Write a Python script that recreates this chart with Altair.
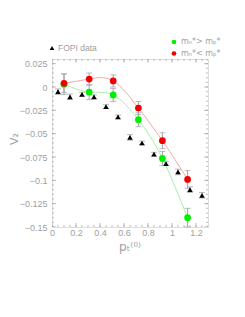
import altair as alt
import pandas as pd

# FOPI data (black triangles)
fopi_x = [0.05, 0.15, 0.25, 0.35, 0.45, 0.55, 0.65, 0.75, 0.85, 0.95, 1.05, 1.15, 1.25]
fopi_v2 = [-0.005, -0.0105, -0.0078, -0.0105, -0.021, -0.032, -0.054, -0.060, -0.072, -0.082, -0.091, -0.110, -0.116]
fopi_err = [0.003, 0.003, 0.002, 0.002, 0.002, 0.002, 0.003, 0.002, 0.002, 0.002, 0.003, 0.003, 0.003]

# model results
model_x = [0.10, 0.31, 0.51, 0.72, 0.92, 1.13]
green_v2 = [0.003, -0.0055, -0.0085, -0.035, -0.0765, -0.140]
green_err = [0.011, 0.008, 0.007, 0.0075, 0.0075, 0.010]
red_v2 = [0.004, 0.0085, 0.0065, -0.0225, -0.0575, -0.099]
red_err = [0.010, 0.0065, 0.0065, 0.007, 0.0085, 0.0095]

x_ticks = [0, 0.2, 0.4, 0.6, 0.8, 1, 1.2]
y_ticks = [0.025, 0, -0.025, -0.05, -0.075, -0.1, -0.125, -0.15]
x_minor = [round(i * 0.05, 3) for i in range(27)]
y_minor = [round(-0.15 + i * 0.005, 4) for i in range(37)]

W, H = 156, 168
GREY = "#a0a0a0"
FONT = "Liberation Sans"

fopi = pd.DataFrame({"x": fopi_x, "v": fopi_v2,
                     "lo": [v - e for v, e in zip(fopi_v2, fopi_err)],
                     "hi": [v + e for v, e in zip(fopi_v2, fopi_err)]})
green = pd.DataFrame({"x": model_x, "v": green_v2,
                      "lo": [v - e for v, e in zip(green_v2, green_err)],
                      "hi": [v + e for v, e in zip(green_v2, green_err)]})
red = pd.DataFrame({"x": model_x, "v": red_v2,
                    "lo": [v - e for v, e in zip(red_v2, red_err)],
                    "hi": [v + e for v, e in zip(red_v2, red_err)]})

xs = alt.Scale(domain=[0, 1.3], nice=False, zero=False)
ys = alt.Scale(domain=[-0.15, 0.03], nice=False, zero=False)

LBL = "datum.value < 0 ? '\u2212' + toString(-datum.value) : toString(datum.value)"

xax = alt.Axis(values=x_ticks, labelExpr=LBL, ticks=False, domain=False, grid=False,
               labelFont=FONT, labelFontSize=9, labelColor=GREY, labelPadding=1,
               title=None, labelFlush=False, labelOverlap=False, labelBound=False)
yax = alt.Axis(values=y_ticks, labelExpr=LBL, ticks=False, domain=False, grid=False,
               labelFont=FONT, labelFontSize=9, labelColor=GREY, labelPadding=5,
               title=None, labelFlush=False, labelOverlap=False, labelBound=False)


def X(f="x"):
    return alt.X(f"{f}:Q", scale=xs, axis=xax)


def Y(f="v"):
    return alt.Y(f"{f}:Q", scale=ys, axis=yax)


def errbars(df):
    base = alt.Chart(df)
    rule = base.mark_rule(color=GREY, strokeWidth=1).encode(x=X(), y=Y("lo"), y2="hi:Q")
    cap_lo = base.mark_tick(color=GREY, orient="horizontal", size=6, thickness=1).encode(
        x=X(), y=Y("lo"))
    cap_hi = base.mark_tick(color=GREY, orient="horizontal", size=6, thickness=1).encode(
        x=X(), y=Y("hi"))
    return rule + cap_lo + cap_hi


green_line = alt.Chart(green).mark_line(interpolate="natural", color="#a8f0a8", strokeWidth=1).encode(x=X(), y=Y())
red_line = alt.Chart(red).mark_line(interpolate="natural", color="#f4a8a8", strokeWidth=1).encode(x=X(), y=Y())

fopi_pts = alt.Chart(fopi).mark_point(shape="triangle-up", filled=True, color="black",
                                      size=30, opacity=1).encode(x=X(), y=Y())
green_pts = alt.Chart(green).mark_circle(color="#00ee00", size=45, opacity=1).encode(x=X(), y=Y())
red_pts = alt.Chart(red).mark_circle(color="#ee0000", size=45, opacity=1).encode(x=X(), y=Y())

# frame ticks (inward)
xmaj = pd.DataFrame({"x": x_ticks})
xmin = pd.DataFrame({"x": x_minor})
ymaj = pd.DataFrame({"v": y_ticks})
ymin = pd.DataFrame({"v": y_minor})


def xt(df, length, yy):
    return alt.Chart(df).mark_tick(color=GREY, thickness=1, size=2 * length, clip=True,
                                   orient="vertical").encode(x=X(), y=alt.value(yy))


def yt(df, length, xx):
    return alt.Chart(df).mark_tick(color=GREY, thickness=1, size=2 * length, clip=True,
                                   orient="horizontal").encode(y=Y(), x=alt.value(xx))


ticks = (xt(xmaj, 4, H) + xt(xmin, 2, H) + xt(xmaj, 4, 0) + xt(xmin, 2, 0)
         + yt(ymaj, 4, 0) + yt(ymin, 2, 0) + yt(ymaj, 4, W) + yt(ymin, 2, W))

# legend & titles
leg_tri = alt.Chart(pd.DataFrame({"a": [0]})).mark_point(
    shape="triangle-up", filled=True, color="black", size=22, opacity=1).encode(
    x=alt.value(0), y=alt.value(-11))
leg_fopi = alt.Chart(pd.DataFrame({"t": ["FOPI data"]})).mark_text(
    align="left", baseline="middle", font=FONT, fontSize=8.5, color=GREY).encode(
    text="t:N", x=alt.value(6), y=alt.value(-11))
leg_g = alt.Chart(pd.DataFrame({"a": [0]})).mark_circle(color="#00ee00", size=22, opacity=1).encode(
    x=alt.value(122), y=alt.value(-17))
leg_r = alt.Chart(pd.DataFrame({"a": [0]})).mark_circle(color="#ee0000", size=22, opacity=1).encode(
    x=alt.value(122), y=alt.value(-5.5))
leg_gt = alt.Chart(pd.DataFrame({"t": ["mₙ*> mₚ*"]})).mark_text(
    align="left", baseline="middle", font="DejaVu Sans", fontSize=8, color=GREY).encode(
    text="t:N", x=alt.value(129), y=alt.value(-17))
leg_rt = alt.Chart(pd.DataFrame({"t": ["mₙ*< mₚ*"]})).mark_text(
    align="left", baseline="middle", font="DejaVu Sans", fontSize=8, color=GREY).encode(
    text="t:N", x=alt.value(129), y=alt.value(-5.5))
ytitle = alt.Chart(pd.DataFrame({"t": ["V₂"]})).mark_text(
    angle=270, align="center", baseline="middle", font="DejaVu Sans", fontSize=11, color=GREY).encode(
    text="t:N", x=alt.value(-37), y=alt.value(80))
xtitle = alt.Chart(pd.DataFrame({"t": ["pₜ⁽⁰⁾"]})).mark_text(
    align="center", baseline="middle", font="DejaVu Sans", fontSize=12, color=GREY).encode(
    text="t:N", x=alt.value(78), y=alt.value(188))

chart = alt.layer(
    green_line, red_line, errbars(fopi), errbars(green), errbars(red),
    fopi_pts, green_pts, red_pts, ticks,
    leg_tri, leg_fopi, leg_g, leg_r, leg_gt, leg_rt, ytitle, xtitle
).properties(
    width=W, height=H,
    padding={"left": 44, "top": 51, "right": 29, "bottom": 70},
    autosize=alt.AutoSizeParams(type="none"),
).configure_view(stroke=GREY, strokeWidth=1).configure(background="white")

chart.save("out.html", embed_options={"renderer": "svg", "actions": False})
